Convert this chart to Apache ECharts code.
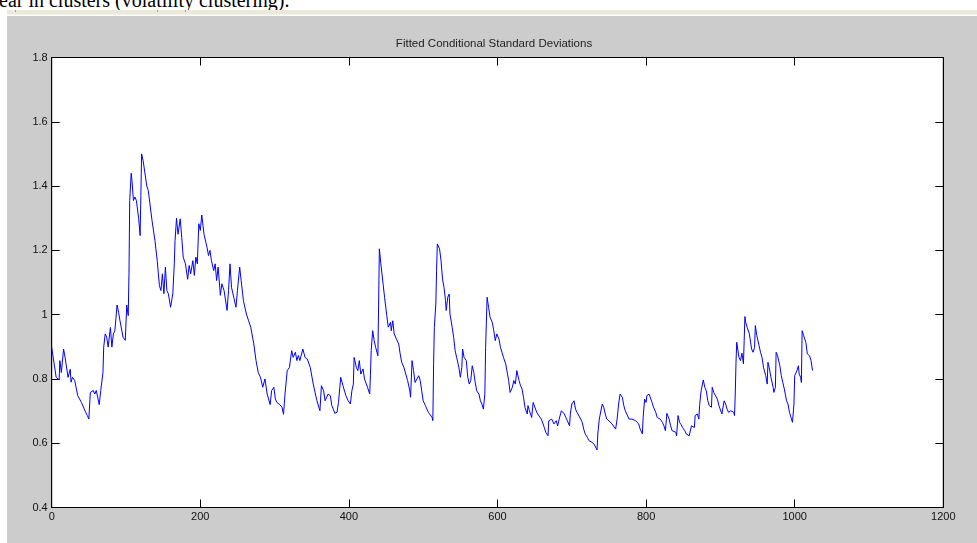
<!DOCTYPE html>
<html>
<head>
<meta charset="utf-8">
<script src="https://cdn.jsdelivr.net/npm/echarts@6/dist/echarts.min.js"></script>
<style>
html,body{margin:0;padding:0;background:#fff;width:977px;height:543px;overflow:hidden;position:relative;}
#doctext{position:absolute;left:-1px;top:-10px;font-family:"Liberation Serif","Times New Roman",serif;font-size:20px;line-height:20px;color:#000;white-space:nowrap;}
#strip{position:absolute;left:7px;top:10px;width:970px;height:4px;background:#ece9d8;}
#stripline{position:absolute;left:7px;top:14px;width:970px;height:1px;background:#f4f2ea;}
.rt{position:absolute;top:10px;width:1px;height:2px;background:#a8a597;}
#fig{position:absolute;left:7px;top:16px;width:970px;height:527px;background:#cccccc;}
#chart{position:absolute;left:0;top:0;width:977px;height:543px;}
</style>
</head>
<body>
<div id="doctext">ear in clusters (volatility clustering).</div>
<div id="strip"></div>
<div id="stripline"></div>
<div class="rt" style="left:15px"></div>
<div class="rt" style="left:157px"></div>
<div class="rt" style="left:185px"></div>
<div id="fig"></div>
<div id="chart"></div>
<script>
// ---- data ----
const chartTitle = "Fitted Conditional Standard Deviations";
const xTicks = [0, 200, 400, 600, 800, 1000, 1200];
const yTicks = [0.4, 0.6, 0.8, 1.0, 1.2, 1.4, 1.6, 1.8];

const obsIndex = [
0,6,10,11,13,16,18,22,25,26,28,31,35,40,45,48,50,52,54,56,58,60,64,66,69,70,72,74,76,79,81,83,85,88,90,92,96,99,
101,103,104,105,107,108,110,112,114,117,119,120,121,123,128,130,135,139,142,145,147,149,151,153,155,157,160,163,165,166,168,170,173,175,177,180,183,185,187,190,192,194,196,198,
200,202,205,209,211,213,215,218,220,222,224,227,229,232,236,238,240,242,245,248,250,253,255,258,262,265,268,272,275,278,281,284,287,290,294,296,299,
301,303,307,310,312,314,316,317,320,323,325,328,330,332,334,338,341,344,348,352,357,361,363,366,368,370,372,375,377,379,381,384,386,389,392,394,396,399,
402,404,406,407,410,412,414,416,419,421,423,425,428,429,430,432,434,436,439,440,441,443,446,448,451,453,456,457,459,461,464,467,469,471,474,476,479,482,483,485,487,489,491,494,496,498,
500,503,505,507,509,512,513,514,515,517,518,519,522,524,526,528,530,531,533,535,536,539,541,543,545,548,550,552,553,555,558,560,562,564,566,568,570,572,575,577,579,581,583,584,586,588,590,593,595,597,599,
602,604,606,608,611,613,615,617,620,622,624,626,629,631,633,635,637,640,641,643,646,648,650,652,654,656,659,661,663,665,668,669,671,673,676,678,679,681,683,686,688,690,692,694,697,698,
700,703,705,707,709,712,714,716,718,721,723,725,727,730,732,734,735,737,738,741,743,745,747,750,752,754,756,759,761,763,765,768,770,772,774,777,779,781,783,786,788,790,792,795,796,798,
800,801,804,806,808,810,813,815,817,819,822,824,826,828,831,833,835,837,840,841,843,845,847,849,852,854,856,858,860,861,863,865,866,869,871,872,874,875,877,879,881,883,885,888,889,891,893,896,898,
900,902,905,907,909,911,914,916,918,919,920,921,922,924,925,927,929,931,932,933,934,936,937,939,940,942,944,946,947,949,952,954,956,958,961,963,964,966,968,971,972,974,975,977,980,982,984,986,989,991,993,995,997,999,
1000,1002,1003,1005,1006,1008,1009,1010,1012,1015,1017,1019,1020,1022,1024
];

const condStdDev = [
0.898,0.805,0.797,0.857,0.82,0.893,0.867,0.805,0.83,0.79,0.805,0.795,0.748,0.727,0.70,0.686,0.675,0.758,0.753,0.764,0.753,0.764,0.72,0.764,0.82,0.899,0.94,0.93,0.899,0.96,0.899,0.94,0.95,1.03,1.007,0.98,0.93,0.92,
1.03,0.997,1.127,1.355,1.44,1.418,1.355,1.366,1.355,1.30,1.246,1.37,1.50,1.48,1.40,1.386,1.293,1.23,1.168,1.09,1.075,1.127,1.065,1.148,1.075,1.065,1.023,1.065,1.158,1.23,1.30,1.25,1.298,1.24,1.179,1.158,1.11,1.153,1.127,1.168,1.122,1.179,1.158,1.283,
1.262,1.31,1.25,1.21,1.184,1.20,1.168,1.137,1.158,1.106,1.148,1.06,1.096,1.075,1.013,1.075,1.158,1.085,1.054,1.023,1.075,1.148,1.106,1.044,1.002,0.981,0.96,0.909,0.857,0.82,0.805,0.774,0.80,0.753,0.72,0.764,0.774,
0.738,0.727,0.72,0.712,0.69,0.753,0.748,0.826,0.836,0.888,0.867,0.883,0.857,0.873,0.857,0.893,0.867,0.862,0.836,0.784,0.732,0.701,0.779,0.763,0.732,0.727,0.753,0.748,0.717,0.706,0.693,0.696,0.727,0.805,0.779,0.774,0.748,0.732,
0.722,0.763,0.784,0.867,0.836,0.826,0.857,0.815,0.831,0.80,0.795,0.774,0.753,0.815,0.888,0.95,0.919,0.898,0.872,1.033,1.205,1.158,1.096,1.054,0.997,0.961,0.976,0.95,0.981,0.94,0.924,0.909,0.878,0.852,0.836,0.831,0.795,0.763,0.743,0.857,0.826,0.789,0.795,0.81,0.795,0.763,
0.732,0.717,0.706,0.696,0.691,0.68,0.67,0.847,0.961,1.033,1.137,1.22,1.205,1.168,1.111,1.085,1.044,1.013,1.054,1.064,1.002,0.961,0.929,0.888,0.867,0.836,0.805,0.836,0.893,0.867,0.857,0.805,0.784,0.795,0.841,0.821,0.789,0.763,0.753,0.732,0.722,0.706,0.753,0.898,1.054,1.023,0.992,0.976,0.95,0.919,0.94,
0.924,0.898,0.883,0.867,0.847,0.821,0.795,0.758,0.774,0.795,0.784,0.826,0.795,0.779,0.769,0.743,0.711,0.691,0.717,0.701,0.68,0.727,0.732,0.701,0.691,0.686,0.675,0.67,0.649,0.634,0.623,0.67,0.665,0.675,0.66,0.654,0.67,0.654,0.675,0.701,0.706,0.691,0.68,0.67,0.654,0.691,
0.722,0.732,0.706,0.696,0.691,0.675,0.665,0.644,0.629,0.618,0.608,0.603,0.603,0.597,0.592,0.579,0.629,0.675,0.68,0.722,0.712,0.691,0.675,0.67,0.665,0.66,0.665,0.644,0.675,0.722,0.753,0.743,0.717,0.701,0.691,0.675,0.67,0.675,0.68,0.67,0.665,0.66,0.644,0.629,0.68,0.737,
0.727,0.748,0.753,0.748,0.727,0.712,0.696,0.68,0.686,0.675,0.665,0.654,0.639,0.693,0.675,0.654,0.639,0.641,0.634,0.623,0.686,0.665,0.658,0.649,0.639,0.629,0.634,0.623,0.618,0.654,0.66,0.649,0.686,0.691,0.675,0.717,0.763,0.769,0.797,0.774,0.763,0.732,0.717,0.712,0.774,0.758,0.761,0.737,0.717,
0.712,0.691,0.732,0.722,0.706,0.696,0.701,0.696,0.696,0.686,0.753,0.852,0.914,0.909,0.867,0.857,0.88,0.847,0.919,0.994,0.976,0.961,0.963,0.94,0.924,0.893,0.883,0.898,0.966,0.935,0.904,0.883,0.867,0.836,0.81,0.784,0.852,0.831,0.805,0.774,0.758,0.774,0.883,0.872,0.841,0.81,0.789,0.769,0.732,0.722,0.696,0.68,0.665,0.722,
0.81,0.815,0.826,0.841,0.815,0.805,0.789,0.95,0.935,0.914,0.878,0.883,0.872,0.857,0.826
];

// ---- chart ----
const font = '"Liberation Sans", Arial, Helvetica, sans-serif';
const points = obsIndex.map((x, i) => [x, condStdDev[i]]);
const chart = echarts.init(document.getElementById('chart'), null, {renderer: 'canvas'});

function xAx(pos, labels) {
  return {
    type: 'value', position: pos,
    min: xTicks[0], max: xTicks[xTicks.length - 1], interval: xTicks[1] - xTicks[0],
    axisLine: {show: true, onZero: false, lineStyle: {color: '#000', width: 1}},
    axisTick: {show: true, inside: true, length: 8, lineStyle: {color: '#000', width: 1}},
    axisLabel: {show: labels, color: '#111', fontSize: 11, fontFamily: font, margin: 4,
      formatter: v => String(Math.round(v))},
    splitLine: {show: false}
  };
}
function yAx(pos, labels) {
  return {
    type: 'value', position: pos,
    min: yTicks[0], max: yTicks[yTicks.length - 1], interval: 0.2,
    axisLine: {show: true, onZero: false, lineStyle: {color: '#000', width: 1}},
    axisTick: {show: true, inside: true, length: 8, lineStyle: {color: '#000', width: 1}},
    axisLabel: {show: labels, color: '#111', fontSize: 11, fontFamily: font, margin: 4,
      formatter: v => String(parseFloat(v.toFixed(1)))},
    splitLine: {show: false}
  };
}

chart.setOption({
  backgroundColor: 'transparent',
  animation: false,
  title: {
    text: chartTitle,
    left: 494, top: 38, textAlign: 'center', padding: 0,
    textStyle: {fontSize: 11.5, fontWeight: 'normal', color: '#222', fontFamily: font, lineHeight: 12}
  },
  grid: {
    left: 51.7, right: 33.7, top: 57.5, bottom: 35.5,
    show: true, backgroundColor: '#fff', borderColor: '#000', borderWidth: 1
  },
  xAxis: [xAx('bottom', true), xAx('top', false)],
  yAxis: [yAx('left', true), yAx('right', false)],
  series: [{
    type: 'line',
    xAxisIndex: 0, yAxisIndex: 0,
    data: points,
    showSymbol: false,
    symbol: 'none',
    lineStyle: {color: '#0000ff', width: 1},
    itemStyle: {color: '#0000ff'}
  }]
});
</script>
</body>
</html>
